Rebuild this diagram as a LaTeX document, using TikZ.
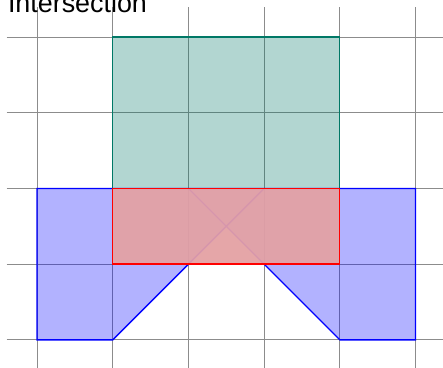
\documentclass[tikz,border=0pt]{standalone}
\usepackage{fontspec}
\setmainfont{Liberation Sans}
\definecolor{tealc}{RGB}{0,120,102}
\definecolor{pinkc}{RGB}{233,163,165}
\tikzset{
  gridline/.style={draw=black!45, line width=0.38pt},
  polyA/.style={draw=tealc, fill=tealc, fill opacity=0.3, line width=0.5pt},
  polyB/.style={draw=blue, fill=blue, fill opacity=0.3, line width=0.5pt},
  inter/.style={draw=red, fill=pinkc, fill opacity=0.92, line width=0.5pt},
  titletext/.style={font=\fontsize{10.1}{12}\selectfont, anchor=base west, inner sep=0pt}
}
\begin{document}
\begin{tikzpicture}[x=1cm,y=1cm]
\clip (-0.489,-0.370) rectangle (5.363,4.489);
% grid
\foreach \i in {0,...,5} \draw[gridline] (\i,-0.4) -- (\i,4.4);
\foreach \j in {0,...,4} \draw[gridline] (-0.4,\j) -- (5.4,\j);
% polygon A
\path[polyA] (1,1) rectangle (4,4);
% polygon B
\path[polyB] (0,0) -- (1,0) -- (3,2) -- (2,2) -- (4,0) -- (5,0) -- (5,2) -- (0,2) -- cycle;
% intersection
\path[inter] (1,1) rectangle (4,2);
% title
\node[titletext] (title) at (-0.39,4.33) {Intersection};
\end{tikzpicture}
\end{document}
